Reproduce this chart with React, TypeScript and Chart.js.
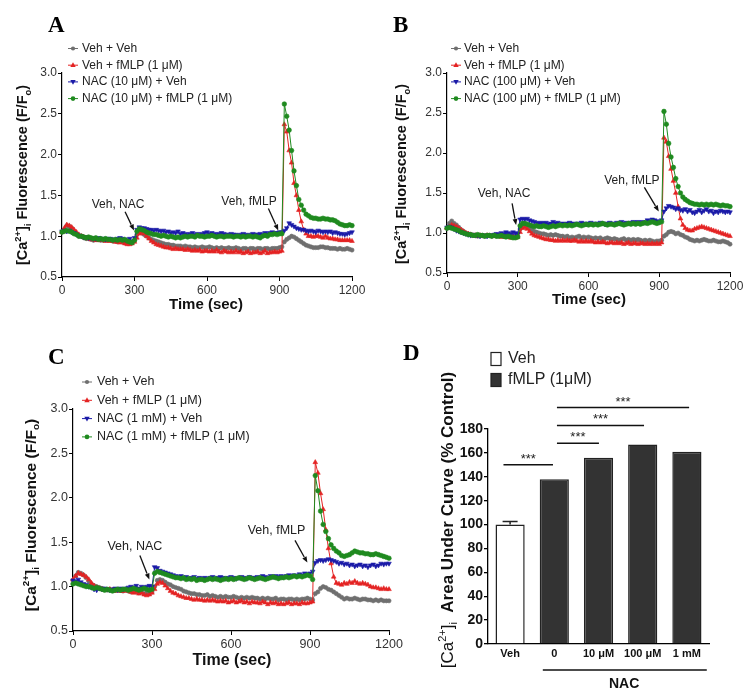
import React, { useEffect, useRef } from "react";
import { Chart, registerables } from "chart.js";

Chart.register(...registerables);

const W = 753;
const H = 699;
const FONT = "'Liberation Sans', Arial, Helvetica, sans-serif";
const SERIF = "'Liberation Serif', 'Times New Roman', serif";

// ---------- time-course data (sampled every 10 s, 0..1200 s) ----------
const TIME_SEC = Array.from({ length: 121 }, (_, i) => i * 10);
const TIME_TICK_STEP = 300;
const F_MIN = 0.5;
const F_MAX = 3.0;
const F_STEP = 0.5;

const LABELS_A = ["Veh + Veh", "Veh + fMLP (1 μM)", "NAC (10 μM) + Veh", "NAC (10 μM) + fMLP (1 μM)"];
const LABELS_B = ["Veh + Veh", "Veh + fMLP (1 μM)", "NAC (100 μM) + Veh", "NAC (100 μM) + fMLP (1 μM)"];
const LABELS_C = ["Veh + Veh", "Veh + fMLP (1 μM)", "NAC (1 mM) + Veh", "NAC (1 mM) + fMLP (1 μM)"];

const A_VEH_VEH = [
  1.05, 1.08, 1.13, 1.12, 1.10, 1.06, 1.03, 1.00, 1.00, 0.98,
  0.97, 0.97, 0.96, 0.95, 0.96, 0.96, 0.95, 0.95, 0.96, 0.95,
  0.95, 0.94, 0.94, 0.93, 0.94, 0.93, 0.92, 0.93, 0.92, 0.92,
  0.95, 1.02, 1.05, 1.04, 1.02, 1.00, 0.98, 0.96, 0.95, 0.94,
  0.93, 0.92, 0.91, 0.90, 0.90, 0.89, 0.89, 0.88, 0.88, 0.88,
  0.87, 0.88, 0.87, 0.87, 0.86, 0.87, 0.86, 0.86, 0.87, 0.86,
  0.86, 0.87, 0.86, 0.85, 0.86, 0.85, 0.86, 0.85, 0.85, 0.86,
  0.85, 0.85, 0.86, 0.85, 0.84, 0.85, 0.85, 0.84, 0.85, 0.85,
  0.84, 0.85, 0.85, 0.84, 0.85, 0.85, 0.84, 0.85, 0.85, 0.85,
  0.86, 0.87, 0.93, 0.96, 0.98, 1.00, 0.99, 0.97, 0.95, 0.93,
  0.91, 0.89, 0.88, 0.87, 0.86, 0.86, 0.86, 0.87, 0.87, 0.86,
  0.86, 0.85, 0.85, 0.85, 0.84, 0.85, 0.84, 0.84, 0.85, 0.84,
  0.83,
];
const A_VEH_FMLP = [
  1.05, 1.10, 1.14, 1.13, 1.11, 1.08, 1.05, 1.02, 1.00, 0.99,
  0.98, 0.97, 0.96, 0.96, 0.95, 0.95, 0.96, 0.95, 0.94, 0.95,
  0.94, 0.94, 0.93, 0.93, 0.92, 0.93, 0.91, 0.90, 0.90, 0.91,
  0.93, 0.98, 1.03, 1.05, 1.03, 1.00, 0.97, 0.94, 0.92, 0.90,
  0.89, 0.88, 0.87, 0.86, 0.86, 0.85, 0.84, 0.85, 0.84, 0.84,
  0.84, 0.83, 0.84, 0.83, 0.82, 0.83, 0.82, 0.83, 0.81, 0.82,
  0.82, 0.81, 0.82, 0.81, 0.83, 0.81, 0.80, 0.82, 0.81, 0.80,
  0.81, 0.80, 0.82, 0.80, 0.81, 0.79, 0.80, 0.81, 0.79, 0.80,
  0.80, 0.81, 0.79, 0.80, 0.82, 0.79, 0.80, 0.80, 0.81, 0.80,
  0.81, 0.82, 2.37, 2.28, 2.05, 1.90, 1.65, 1.50, 1.32, 1.18,
  1.08, 1.03, 1.00, 1.00, 0.99, 1.00, 1.00, 0.99, 0.98, 1.00,
  0.98, 0.97, 0.97, 0.96, 0.96, 0.95, 0.95, 0.95, 0.95, 0.95,
  0.94,
];
const A_NAC_VEH = [
  1.06, 1.07, 1.06, 1.07, 1.05, 1.04, 1.02, 1.01, 1.00, 0.99,
  0.99, 0.98, 0.98, 0.97, 0.97, 0.98, 0.97, 0.97, 0.96, 0.97,
  0.97, 0.96, 0.96, 0.97, 0.98, 0.97, 0.96, 0.95, 0.97, 0.94,
  0.98, 1.08, 1.11, 1.10, 1.10, 1.09, 1.08, 1.08, 1.07, 1.08,
  1.07, 1.06, 1.07, 1.05, 1.06, 1.04, 1.05, 1.04, 1.06, 1.03,
  1.04, 1.03, 1.02, 1.03, 1.04, 1.02, 1.03, 1.02, 1.03, 1.04,
  1.05, 1.03, 1.04, 1.03, 1.02, 1.03, 1.04, 1.03, 1.02, 1.02,
  1.03, 1.02, 1.02, 1.01, 1.02, 1.03, 1.02, 1.01, 1.02, 1.03,
  1.02, 1.02, 1.03, 1.02, 1.04, 1.03, 1.04, 1.05, 1.04, 1.04,
  1.05, 1.05, 1.07, 1.10, 1.16, 1.14, 1.12, 1.10, 1.09, 1.08,
  1.08, 1.07, 1.06, 1.07, 1.06, 1.05, 1.07, 1.06, 1.05, 1.06,
  1.05, 1.06, 1.04, 1.05, 1.04, 1.03, 1.03, 1.02, 1.03, 1.04,
  1.05,
];
const A_NAC_FMLP = [
  1.05, 1.06, 1.07, 1.06, 1.05, 1.03, 1.02, 1.00, 1.00, 0.99,
  0.98, 0.99, 0.98, 0.97, 0.98, 0.96, 0.97, 0.96, 0.97, 0.96,
  0.96, 0.95, 0.96, 0.95, 0.96, 0.95, 0.96, 0.94, 0.93, 0.92,
  0.95, 1.06, 1.09, 1.08, 1.07, 1.05, 1.04, 1.03, 1.02, 1.02,
  1.01, 1.00, 1.01, 1.00, 0.99, 1.00, 0.99, 0.98, 0.99, 0.98,
  0.99, 1.00, 0.99, 1.00, 1.00, 0.99, 1.01, 1.00, 1.00, 0.99,
  1.00, 1.00, 1.01, 1.00, 0.99, 1.00, 1.00, 0.99, 1.00, 1.00,
  1.00, 0.99, 1.00, 1.00, 0.99, 1.00, 0.99, 1.00, 1.00, 0.99,
  1.00, 0.99, 0.98, 1.00, 1.01, 1.00, 1.02, 1.02, 1.03, 1.02,
  1.03, 1.03, 2.62, 2.47, 2.30, 2.05, 1.80, 1.62, 1.45, 1.38,
  1.32, 1.27, 1.25, 1.23, 1.22, 1.22, 1.21, 1.21, 1.22, 1.21,
  1.21, 1.20, 1.20, 1.19, 1.17, 1.15, 1.14, 1.13, 1.13, 1.14,
  1.13,
];

const B_VEH_VEH = [
  1.06, 1.12, 1.15, 1.12, 1.10, 1.07, 1.04, 1.02, 1.00, 0.99,
  0.98, 0.97, 0.97, 0.96, 0.97, 0.97, 0.96, 0.97, 0.97, 0.96,
  0.97, 0.96, 0.97, 0.96, 0.96, 0.97, 0.96, 0.95, 0.96, 0.95,
  0.96, 1.05, 1.10, 1.10, 1.09, 1.06, 1.04, 1.02, 1.01, 1.00,
  0.99, 0.99, 0.98, 0.97, 0.98, 0.97, 0.98, 0.97, 0.96, 0.96,
  0.95, 0.96, 0.94, 0.95, 0.94, 0.95, 0.96, 0.94, 0.95, 0.94,
  0.95, 0.94, 0.93, 0.94, 0.93, 0.94, 0.92, 0.93, 0.94, 0.93,
  0.92, 0.93, 0.92, 0.91, 0.92, 0.93, 0.91, 0.92, 0.91, 0.92,
  0.91, 0.92, 0.91, 0.90, 0.91, 0.90, 0.91, 0.90, 0.89, 0.90,
  0.90, 0.91, 0.96, 0.98, 1.01, 1.02, 1.01, 0.99, 1.00, 0.98,
  0.97, 0.95, 0.94, 0.92, 0.91, 0.90, 0.91, 0.90, 0.91, 0.92,
  0.91, 0.90, 0.90, 0.91, 0.90, 0.89, 0.89, 0.90, 0.89, 0.88,
  0.86,
];
const B_VEH_FMLP = [
  1.06, 1.08, 1.10, 1.09, 1.08, 1.06, 1.04, 1.02, 1.00, 0.99,
  0.98, 0.97, 0.97, 0.96, 0.97, 0.96, 0.96, 0.97, 0.96, 0.96,
  0.96, 0.97, 0.96, 0.95, 0.96, 0.95, 0.95, 0.94, 0.95, 0.94,
  0.95, 1.01, 1.06, 1.07, 1.05, 1.02, 0.99, 0.97, 0.96, 0.95,
  0.94, 0.93, 0.92, 0.92, 0.91, 0.91, 0.90, 0.91, 0.90, 0.91,
  0.90, 0.91, 0.90, 0.90, 0.91, 0.90, 0.89, 0.90, 0.89, 0.90,
  0.89, 0.90, 0.89, 0.88, 0.89, 0.88, 0.89, 0.88, 0.87, 0.88,
  0.88, 0.87, 0.88, 0.87, 0.88, 0.86, 0.87, 0.88, 0.86, 0.87,
  0.87, 0.86, 0.87, 0.87, 0.86, 0.87, 0.86, 0.87, 0.86, 0.87,
  0.86, 0.88, 2.19, 2.14, 1.96, 1.80, 1.65, 1.50, 1.33, 1.18,
  1.10, 1.06, 1.04, 1.03, 1.03, 1.05, 1.06, 1.07, 1.08, 1.07,
  1.06, 1.05, 1.04, 1.03, 1.02, 1.01, 1.00, 0.99, 0.98, 0.97,
  0.96,
];
const B_NAC_VEH = [
  1.07, 1.08, 1.07, 1.05, 1.03, 1.02, 1.01, 1.00, 0.99, 0.98,
  0.97, 0.98, 0.97, 0.97, 0.96, 0.97, 0.97, 0.96, 0.97, 0.97,
  0.98, 0.99, 0.98, 1.00, 0.99, 1.01, 1.00, 0.99, 1.01, 1.00,
  0.99, 1.17, 1.18, 1.17, 1.18, 1.16, 1.15, 1.14, 1.13, 1.12,
  1.13, 1.12, 1.13, 1.11, 1.12, 1.14, 1.12, 1.13, 1.11, 1.12,
  1.11, 1.12, 1.13, 1.12, 1.11, 1.12, 1.11, 1.13, 1.12, 1.11,
  1.12, 1.13, 1.11, 1.12, 1.11, 1.13, 1.12, 1.11, 1.12, 1.13,
  1.12, 1.11, 1.13, 1.12, 1.14, 1.12, 1.13, 1.12, 1.13, 1.14,
  1.13, 1.14, 1.13, 1.14, 1.13, 1.16, 1.15, 1.17, 1.16, 1.15,
  1.14, 1.16, 1.27, 1.31, 1.34, 1.33, 1.32, 1.30, 1.31, 1.29,
  1.28, 1.30, 1.27, 1.29, 1.26, 1.25, 1.27, 1.29, 1.26, 1.28,
  1.30, 1.27, 1.28, 1.25, 1.27, 1.26, 1.28, 1.27, 1.26, 1.27,
  1.26,
];
const B_NAC_FMLP = [
  1.06, 1.07, 1.06, 1.05, 1.04, 1.03, 1.01, 1.00, 0.99, 0.98,
  0.98, 0.97, 0.97, 0.98, 0.97, 0.97, 0.96, 0.97, 0.97, 0.96,
  0.97, 0.96, 0.96, 0.97, 0.96, 0.95, 0.96, 0.95, 0.94, 0.94,
  0.95, 1.09, 1.12, 1.12, 1.11, 1.10, 1.09, 1.08, 1.09, 1.08,
  1.08, 1.09, 1.08, 1.07, 1.08, 1.09, 1.08, 1.09, 1.10, 1.09,
  1.10, 1.09, 1.10, 1.09, 1.10, 1.11, 1.10, 1.09, 1.10, 1.11,
  1.10, 1.11, 1.10, 1.11, 1.10, 1.11, 1.12, 1.11, 1.10, 1.11,
  1.11, 1.10, 1.11, 1.12, 1.11, 1.10, 1.11, 1.12, 1.11, 1.12,
  1.11, 1.12, 1.11, 1.12, 1.13, 1.12, 1.13, 1.14, 1.13, 1.12,
  1.13, 1.14, 2.52, 2.36, 2.12, 1.95, 1.82, 1.68, 1.58, 1.50,
  1.45, 1.42, 1.40, 1.38, 1.37, 1.36, 1.36, 1.35, 1.36, 1.35,
  1.36, 1.35, 1.36, 1.35, 1.36, 1.35, 1.34, 1.35, 1.34, 1.34,
  1.33,
];

const C_VEH_VEH = [
  1.07, 1.12, 1.16, 1.15, 1.13, 1.10, 1.06, 1.03, 1.01, 1.00,
  0.99, 0.98, 0.97, 0.96, 0.97, 0.96, 0.96, 0.97, 0.96, 0.95,
  0.96, 0.95, 0.94, 0.95, 0.94, 0.93, 0.94, 0.92, 0.93, 0.92,
  0.94, 1.00, 1.07, 1.08, 1.07, 1.05, 1.03, 1.02, 1.00, 0.99,
  0.98, 0.97, 0.95, 0.94, 0.93, 0.92, 0.92, 0.91, 0.91, 0.90,
  0.90, 0.91, 0.89, 0.90, 0.89, 0.88, 0.89, 0.88, 0.89, 0.88,
  0.88, 0.89, 0.88, 0.87, 0.88, 0.87, 0.88, 0.87, 0.88, 0.87,
  0.87, 0.86, 0.87, 0.86, 0.87, 0.86, 0.86, 0.87, 0.85, 0.86,
  0.86, 0.85, 0.86, 0.86, 0.85, 0.86, 0.85, 0.86, 0.86, 0.87,
  0.86, 0.85, 0.92, 0.94, 0.98, 1.00, 0.99, 0.97, 0.96, 0.94,
  0.92, 0.90, 0.88, 0.86, 0.87, 0.86, 0.86, 0.87, 0.86, 0.85,
  0.86, 0.86, 0.85, 0.85, 0.84, 0.85, 0.84, 0.85, 0.84, 0.84,
  0.84,
];
const C_VEH_FMLP = [
  1.08, 1.12, 1.15, 1.14, 1.13, 1.11, 1.08, 1.04, 1.01, 0.99,
  0.98, 0.97, 0.96, 0.96, 0.97, 0.96, 0.95, 0.96, 0.95, 0.95,
  0.96, 0.95, 0.94, 0.93, 0.94, 0.92, 0.93, 0.91, 0.90, 0.91,
  0.93, 0.97, 1.03, 1.05, 1.04, 1.01, 0.98, 0.95, 0.93, 0.92,
  0.90, 0.89, 0.88, 0.87, 0.87, 0.86, 0.85, 0.86, 0.85, 0.85,
  0.84, 0.85, 0.84, 0.85, 0.84, 0.83, 0.84, 0.83, 0.84, 0.82,
  0.83, 0.84, 0.82, 0.83, 0.84, 0.82, 0.83, 0.81, 0.83, 0.82,
  0.82, 0.81, 0.83, 0.82, 0.80, 0.82, 0.81, 0.82, 0.80, 0.81,
  0.80, 0.81, 0.82, 0.80, 0.81, 0.81, 0.80, 0.82, 0.81, 0.81,
  0.82, 0.83, 2.40, 2.28, 2.05, 1.87, 1.64, 1.43, 1.26, 1.11,
  1.04, 1.03, 1.02, 1.04, 1.03, 1.05, 1.04, 1.06, 1.04, 1.03,
  1.04, 1.03, 1.02, 1.00, 0.99, 0.99, 0.98, 0.97, 0.98, 0.97,
  0.97,
];
const C_NAC_VEH = [
  1.07, 1.06, 1.08, 1.05, 1.03, 1.02, 1.00, 0.99, 0.97, 0.96,
  0.98, 0.97, 0.98, 0.97, 0.96, 0.97, 0.98, 0.96, 0.98, 0.97,
  0.98, 0.99, 1.00, 0.99, 1.01, 0.98, 1.00, 0.99, 1.00, 1.01,
  1.00, 1.22, 1.21, 1.18, 1.17, 1.16, 1.15, 1.14, 1.13, 1.12,
  1.11, 1.12, 1.10, 1.11, 1.09, 1.10, 1.11, 1.09, 1.10, 1.09,
  1.10, 1.09, 1.10, 1.11, 1.09, 1.10, 1.11, 1.10, 1.09, 1.10,
  1.11, 1.10, 1.09, 1.10, 1.11, 1.10, 1.09, 1.11, 1.10, 1.10,
  1.11, 1.10, 1.12, 1.11, 1.10, 1.12, 1.11, 1.12, 1.11, 1.12,
  1.11, 1.12, 1.13, 1.12, 1.13, 1.12, 1.14, 1.13, 1.15, 1.14,
  1.15, 1.17, 1.27, 1.29, 1.30, 1.29, 1.30, 1.31, 1.30, 1.29,
  1.28, 1.26, 1.27, 1.25, 1.26, 1.24, 1.25, 1.23, 1.24, 1.25,
  1.23, 1.24, 1.22, 1.24, 1.25, 1.23, 1.24, 1.26, 1.25, 1.26,
  1.26,
];
const C_NAC_FMLP = [
  1.03, 1.04, 1.03, 1.02, 1.01, 1.00, 1.00, 0.99, 0.98, 0.99,
  0.98, 0.97, 0.96, 0.97, 0.96, 0.95, 0.96, 0.97, 0.96, 0.97,
  0.97, 0.96, 0.97, 0.98, 0.97, 0.96, 0.97, 0.98, 0.97, 0.96,
  0.97, 1.15, 1.17, 1.16, 1.15, 1.14, 1.13, 1.12, 1.11, 1.10,
  1.10, 1.09, 1.10, 1.08, 1.09, 1.08, 1.09, 1.07, 1.08, 1.08,
  1.07, 1.08, 1.09, 1.08, 1.09, 1.08, 1.07, 1.08, 1.09, 1.08,
  1.09, 1.08, 1.09, 1.10, 1.09, 1.08, 1.09, 1.10, 1.09, 1.08,
  1.09, 1.10, 1.09, 1.08, 1.09, 1.10, 1.11, 1.10, 1.09, 1.10,
  1.10, 1.11, 1.10, 1.11, 1.12, 1.11, 1.12, 1.11, 1.12, 1.13,
  1.12, 1.08, 2.25, 2.08, 1.85, 1.70, 1.62, 1.54, 1.47, 1.43,
  1.40, 1.38, 1.35, 1.34, 1.35, 1.36, 1.38, 1.40, 1.39, 1.38,
  1.38, 1.37, 1.37, 1.36, 1.36, 1.37, 1.36, 1.35, 1.34, 1.33,
  1.32,
];

// ---------- bar panel data ----------
const AUC_GROUPS = ["Veh", "0", "10 μM", "100 μM", "1 mM"];
const AUC_VALUES = [100, 138, 156, 167, 161];
const AUC_ERRORS = [2.5, 0, 0, 0, 0];
const AUC_MAX = 180;
const AUC_STEP = 20;
const AUC_LEGEND = ["Veh", "fMLP (1μM)"];
// significance brackets: [from group index, to group index, level]
const SIG_FROM = [-0.15, 1.06, 1.06, 1.06];
const SIG_TO = [0.97, 2.01, 3.03, 4.05];
const SIG_LEVEL = [150, 168, 183, 198];
const SIG_TEXT = ["***", "***", "***", "***"];

// ---------- styles ----------
const SERIES_STYLE = [
  { color: "#6f6f6f", pointStyle: "circle", rotation: 0, radius: 2.1 },
  { color: "#e42323", pointStyle: "triangle", rotation: 0, radius: 2.7 },
  { color: "#1b1ba8", pointStyle: "triangle", rotation: 180, radius: 2.7 },
  { color: "#1f8a1f", pointStyle: "circle", rotation: 0, radius: 2.3 },
];

type Seg = { t: string; k?: "sup" | "sub"; bold?: boolean };
const FLUO_TITLE: Seg[] = [
  { t: "[Ca" }, { t: "2+", k: "sup" }, { t: "]" }, { t: "i", k: "sub" },
  { t: " Fluorescence (F/F" }, { t: "o", k: "sub" }, { t: ")" },
];
const AUC_TITLE: Seg[] = [
  { t: "[Ca", bold: false }, { t: "2+", k: "sup", bold: false }, { t: "]", bold: false },
  { t: "i", k: "sub", bold: false }, { t: "  Area Under Curve (% Control)", bold: true },
];

type Note = { text: string; at: [number, number]; from: [number, number]; to: [number, number] };
type TSPanel = {
  letter: string;
  letterPos: [number, number];
  area: { left: number; top: number; right: number; bottom: number };
  labels: string[];
  series: number[][];
  legend: { markerX: number; textX: number; y0: number; dy: number; size: number };
  tickSize: number;
  yTitle: [number, number, number];
  xTitle: [number, number, number];
  notes: Note[];
};

const PANEL_A: TSPanel = {
  letter: "A",
  letterPos: [48, 32],
  area: { left: 62, top: 73, right: 352, bottom: 277 },
  labels: LABELS_A,
  series: [A_VEH_VEH, A_VEH_FMLP, A_NAC_VEH, A_NAC_FMLP],
  legend: { markerX: 73, textX: 82, y0: 48.5, dy: 16.7, size: 12 },
  tickSize: 12,
  yTitle: [22, 175, 14.5],
  xTitle: [206, 305, 15],
  notes: [
    { text: "Veh, NAC", at: [232, 1.39], from: [261, 1.30], to: [298, 1.07] },
    { text: "Veh, fMLP", at: [774, 1.42], from: [854, 1.34], to: [895, 1.07] },
  ],
};
const PANEL_B: TSPanel = {
  letter: "B",
  letterPos: [393, 32],
  area: { left: 447, top: 73, right: 730, bottom: 273 },
  labels: LABELS_B,
  series: [B_VEH_VEH, B_VEH_FMLP, B_NAC_VEH, B_NAC_FMLP],
  legend: { markerX: 456, textX: 464, y0: 48.5, dy: 16.7, size: 12 },
  tickSize: 12,
  yTitle: [401, 174, 14.5],
  xTitle: [589, 300, 15],
  notes: [
    { text: "Veh, NAC", at: [242, 1.49], from: [276, 1.37], to: [293, 1.10] },
    { text: "Veh, fMLP", at: [784, 1.66], from: [837, 1.57], to: [898, 1.27] },
  ],
};
const PANEL_C: TSPanel = {
  letter: "C",
  letterPos: [48, 364],
  area: { left: 73, top: 409, right: 389, bottom: 631 },
  labels: LABELS_C,
  series: [C_VEH_VEH, C_VEH_FMLP, C_NAC_VEH, C_NAC_FMLP],
  legend: { markerX: 87, textX: 97, y0: 382, dy: 18.3, size: 12.5 },
  tickSize: 12.5,
  yTitle: [30, 515, 15.5],
  xTitle: [232, 661, 16],
  notes: [
    { text: "Veh, NAC", at: [235, 1.45], from: [254, 1.35], to: [290, 1.08] },
    { text: "Veh, fMLP", at: [773, 1.63], from: [843, 1.52], to: [890, 1.27] },
  ],
};

const YW = 40;
const XH = 30;

function drawRich(ctx: CanvasRenderingContext2D, segs: Seg[], cx: number, cy: number, size: number, rotate: boolean, bold: boolean) {
  ctx.save();
  ctx.translate(cx, cy);
  if (rotate) ctx.rotate(-Math.PI / 2);
  const f = (s: Seg) => `${(s.bold ?? bold) ? "bold " : ""}${s.k ? (size * 0.64).toFixed(1) : size}px ${FONT}`;
  const ws: number[] = [];
  let total = 0;
  for (const s of segs) {
    ctx.font = f(s);
    const w = ctx.measureText(s.t).width;
    ws.push(w);
    total += w;
  }
  let x = -total / 2;
  const base = size * 0.36;
  ctx.textAlign = "left";
  ctx.textBaseline = "alphabetic";
  ctx.fillStyle = "#111";
  segs.forEach((s, i) => {
    ctx.font = f(s);
    const dy = s.k === "sup" ? -size * 0.42 : s.k === "sub" ? size * 0.24 : 0;
    ctx.fillText(s.t, x, base + dy);
    x += ws[i];
  });
  ctx.restore();
}

function drawMarker(ctx: CanvasRenderingContext2D, st: typeof SERIES_STYLE[number], x: number, y: number) {
  ctx.fillStyle = st.color;
  ctx.beginPath();
  const r = st.radius;
  if (st.pointStyle === "circle") {
    ctx.arc(x, y, r, 0, Math.PI * 2);
  } else {
    const s = st.rotation === 180 ? -1 : 1;
    ctx.moveTo(x, y - s * r * 1.1);
    ctx.lineTo(x - r, y + s * r * 0.7);
    ctx.lineTo(x + r, y + s * r * 0.7);
    ctx.closePath();
  }
  ctx.fill();
}

function drawArrow(ctx: CanvasRenderingContext2D, x1: number, y1: number, x2: number, y2: number) {
  ctx.strokeStyle = "#111";
  ctx.fillStyle = "#111";
  ctx.lineWidth = 1.3;
  const a = Math.atan2(y2 - y1, x2 - x1);
  const hl = 6.5;
  const bx = x2 - hl * Math.cos(a);
  const by = y2 - hl * Math.sin(a);
  ctx.beginPath();
  ctx.moveTo(x1, y1);
  ctx.lineTo(bx, by);
  ctx.stroke();
  ctx.beginPath();
  ctx.moveTo(x2, y2);
  ctx.lineTo(x2 - hl * Math.cos(a - 0.38), y2 - hl * Math.sin(a - 0.38));
  ctx.lineTo(x2 - hl * Math.cos(a + 0.38), y2 - hl * Math.sin(a + 0.38));
  ctx.closePath();
  ctx.fill();
}

function tsDecor(p: TSPanel) {
  return {
    id: "decor" + p.letter,
    afterDraw(chart: any) {
      const ctx: CanvasRenderingContext2D = chart.ctx;
      const xs = chart.scales.x;
      const ys = chart.scales.y;
      ctx.save();
      // panel letter
      ctx.fillStyle = "#000";
      ctx.font = `bold 23px ${SERIF}`;
      ctx.textAlign = "left";
      ctx.textBaseline = "alphabetic";
      ctx.fillText(p.letter, p.letterPos[0], p.letterPos[1]);
      // legend
      p.labels.forEach((lab, i) => {
        const y = p.legend.y0 + i * p.legend.dy;
        const st = SERIES_STYLE[i];
        ctx.strokeStyle = st.color;
        ctx.lineWidth = 1;
        ctx.beginPath();
        ctx.moveTo(p.legend.markerX - 5, y);
        ctx.lineTo(p.legend.markerX + 5, y);
        ctx.stroke();
        drawMarker(ctx, st, p.legend.markerX, y);
        ctx.fillStyle = "#222";
        ctx.font = `${p.legend.size}px ${FONT}`;
        ctx.textAlign = "left";
        ctx.textBaseline = "middle";
        ctx.fillText(lab, p.legend.textX, y);
      });
      // axis titles
      drawRich(ctx, FLUO_TITLE, p.yTitle[0], p.yTitle[1], p.yTitle[2], true, true);
      ctx.fillStyle = "#111";
      ctx.font = `bold ${p.xTitle[2]}px ${FONT}`;
      ctx.textAlign = "center";
      ctx.textBaseline = "middle";
      ctx.fillText("Time (sec)", p.xTitle[0], p.xTitle[1]);
      // annotations
      for (const n of p.notes) {
        ctx.fillStyle = "#222";
        ctx.font = `${p.legend.size}px ${FONT}`;
        ctx.textAlign = "center";
        ctx.textBaseline = "middle";
        ctx.fillText(n.text, xs.getPixelForValue(n.at[0]), ys.getPixelForValue(n.at[1]));
        drawArrow(
          ctx,
          xs.getPixelForValue(n.from[0]), ys.getPixelForValue(n.from[1]),
          xs.getPixelForValue(n.to[0]), ys.getPixelForValue(n.to[1])
        );
      }
      ctx.restore();
    },
  };
}

function makeTS(canvas: HTMLCanvasElement, p: TSPanel) {
  const a = p.area;
  const tickFont = { family: FONT, size: p.tickSize };
  return new Chart(canvas, {
    type: "line",
    data: {
      datasets: p.series.map((vals, i) => ({
        label: p.labels[i],
        data: TIME_SEC.map((t, j) => ({ x: t, y: vals[j] })),
        borderColor: SERIES_STYLE[i].color,
        backgroundColor: SERIES_STYLE[i].color,
        borderWidth: 1,
        pointRadius: SERIES_STYLE[i].radius,
        pointStyle: SERIES_STYLE[i].pointStyle as any,
        pointRotation: SERIES_STYLE[i].rotation,
        pointBorderWidth: 0.6,
        pointBorderColor: SERIES_STYLE[i].color,
        pointBackgroundColor: SERIES_STYLE[i].color,
        tension: 0,
        clip: false as any,
        order: 3 - i,
      })),
    },
    options: {
      responsive: false,
      animation: false,
      events: [],
      layout: { padding: { left: a.left - YW, top: a.top, right: W - a.right, bottom: H - a.bottom - XH } },
      plugins: { legend: { display: false }, tooltip: { enabled: false } },
      scales: {
        x: {
          type: "linear",
          min: 0,
          max: 1200,
          afterFit: (s: any) => { s.height = XH; },
          ticks: {
            stepSize: TIME_TICK_STEP, autoSkip: false, maxRotation: 0, font: tickFont, color: "#333", padding: 2,
            callback: (v: any) => String(v),
          },
          grid: { drawOnChartArea: false, tickLength: 4, color: "#000" },
          border: { color: "#000", width: 1.2 },
        },
        y: {
          type: "linear",
          min: F_MIN,
          max: F_MAX,
          afterFit: (s: any) => { s.width = YW; },
          ticks: { stepSize: F_STEP, font: tickFont, color: "#333", padding: 1, callback: (v: any) => Number(v).toFixed(1) },
          grid: { drawOnChartArea: false, tickLength: 4, color: "#000" },
          border: { color: "#000", width: 1.2 },
        },
      },
    },
    plugins: [tsDecor(p)],
  } as any);
}

const BAR_AREA = { left: 488, top: 429, right: 709, bottom: 644 };
const BAR_XH = 25;
const BAR_FILL = ["#ffffff", "#333333", "#333333", "#333333", "#333333"];

const barDecor = {
  id: "decorD",
  afterDraw(chart: any) {
    const ctx: CanvasRenderingContext2D = chart.ctx;
    const xs = chart.scales.x;
    const ys = chart.scales.y;
    ctx.save();
    ctx.fillStyle = "#000";
    ctx.font = `bold 23px ${SERIF}`;
    ctx.textAlign = "left";
    ctx.textBaseline = "alphabetic";
    ctx.fillText("D", 403, 360);
    // legend
    const legY = [359, 380];
    AUC_LEGEND.forEach((lab, i) => {
      ctx.fillStyle = i === 0 ? "#ffffff" : "#333333";
      ctx.fillRect(491, legY[i] - 6.5, 10, 13);
      ctx.strokeStyle = "#222";
      ctx.lineWidth = 1.2;
      ctx.strokeRect(491, legY[i] - 6.5, 10, 13);
      ctx.fillStyle = "#222";
      ctx.font = `16px ${FONT}`;
      ctx.textAlign = "left";
      ctx.textBaseline = "middle";
      ctx.fillText(lab, 508, legY[i]);
    });
    // error bars
    ctx.strokeStyle = "#222";
    ctx.lineWidth = 1.5;
    AUC_VALUES.forEach((v, i) => {
      const e = AUC_ERRORS[i];
      if (!e) return;
      const x = xs.getPixelForValue(i);
      const y0 = ys.getPixelForValue(v);
      const y1 = ys.getPixelForValue(v + e);
      ctx.beginPath();
      ctx.moveTo(x, y0);
      ctx.lineTo(x, y1);
      ctx.moveTo(x - 7.5, y1);
      ctx.lineTo(x + 7.5, y1);
      ctx.stroke();
    });
    // significance
    SIG_LEVEL.forEach((lv, i) => {
      const x1 = xs.getPixelForValue(SIG_FROM[i]);
      const x2 = xs.getPixelForValue(SIG_TO[i]);
      const y = ys.getPixelForValue(lv);
      ctx.strokeStyle = "#111";
      ctx.lineWidth = 1.5;
      ctx.beginPath();
      ctx.moveTo(x1, y);
      ctx.lineTo(x2, y);
      ctx.stroke();
      ctx.fillStyle = "#222";
      ctx.font = `13px ${FONT}`;
      ctx.textAlign = "center";
      ctx.textBaseline = "alphabetic";
      ctx.fillText(SIG_TEXT[i], (x1 + x2) / 2, y - 2);
    });
    // NAC bracket
    const ny = chart.chartArea.bottom + 26;
    ctx.strokeStyle = "#111";
    ctx.lineWidth = 1.5;
    ctx.beginPath();
    ctx.moveTo(xs.getPixelForValue(0.74), ny);
    ctx.lineTo(xs.getPixelForValue(4.45), ny);
    ctx.stroke();
    ctx.fillStyle = "#111";
    ctx.font = `bold 14px ${FONT}`;
    ctx.textAlign = "center";
    ctx.textBaseline = "middle";
    ctx.fillText("NAC", xs.getPixelForValue(2.58), ny + 14);
    // y title
    drawRich(ctx, AUC_TITLE, 447, 520, 17, true, true);
    ctx.restore();
  },
};

function makeBar(canvas: HTMLCanvasElement) {
  const a = BAR_AREA;
  return new Chart(canvas, {
    type: "bar",
    data: {
      labels: AUC_GROUPS,
      datasets: [
        {
          label: "AUC",
          data: AUC_VALUES,
          backgroundColor: BAR_FILL,
          borderColor: "#222",
          borderWidth: 1.5,
          barPercentage: 0.66,
          categoryPercentage: 1,
        },
      ],
    },
    options: {
      responsive: false,
      animation: false,
      events: [],
      layout: { padding: { left: a.left - YW, top: a.top, right: W - a.right, bottom: H - a.bottom - BAR_XH } },
      plugins: { legend: { display: false }, tooltip: { enabled: false } },
      scales: {
        x: {
          afterFit: (s: any) => { s.height = BAR_XH; },
          ticks: { font: { family: FONT, size: 11, weight: "bold" }, color: "#111", padding: 3, maxRotation: 0, autoSkip: false },
          grid: { display: false, drawTicks: false, tickLength: 0 },
          border: { color: "#000", width: 1.3 },
        },
        y: {
          min: 0,
          max: AUC_MAX,
          afterFit: (s: any) => { s.width = YW; },
          ticks: { stepSize: AUC_STEP, font: { family: FONT, size: 14, weight: "bold" }, color: "#111", padding: 1 },
          grid: { drawOnChartArea: false, tickLength: 4, color: "#000", lineWidth: 1.3 },
          border: { color: "#000", width: 1.3 },
        },
      },
    },
    plugins: [barDecor],
  } as any);
}

export default function App() {
  const r1 = useRef<HTMLCanvasElement>(null);
  const r2 = useRef<HTMLCanvasElement>(null);
  const r3 = useRef<HTMLCanvasElement>(null);
  const r4 = useRef<HTMLCanvasElement>(null);

  useEffect(() => {
    const charts = [
      makeTS(r1.current!, PANEL_A),
      makeTS(r2.current!, PANEL_B),
      makeTS(r3.current!, PANEL_C),
      makeBar(r4.current!),
    ];
    return () => charts.forEach((c) => c.destroy());
  }, []);

  const cs: React.CSSProperties = { position: "absolute", left: 0, top: 0, width: W, height: H };
  return (
    <div style={{ position: "absolute", left: 0, top: 0, width: W, height: H, background: "#ffffff", overflow: "hidden" }}>
      <canvas ref={r1} width={W} height={H} style={cs} />
      <canvas ref={r2} width={W} height={H} style={cs} />
      <canvas ref={r3} width={W} height={H} style={cs} />
      <canvas ref={r4} width={W} height={H} style={cs} />
    </div>
  );
}
